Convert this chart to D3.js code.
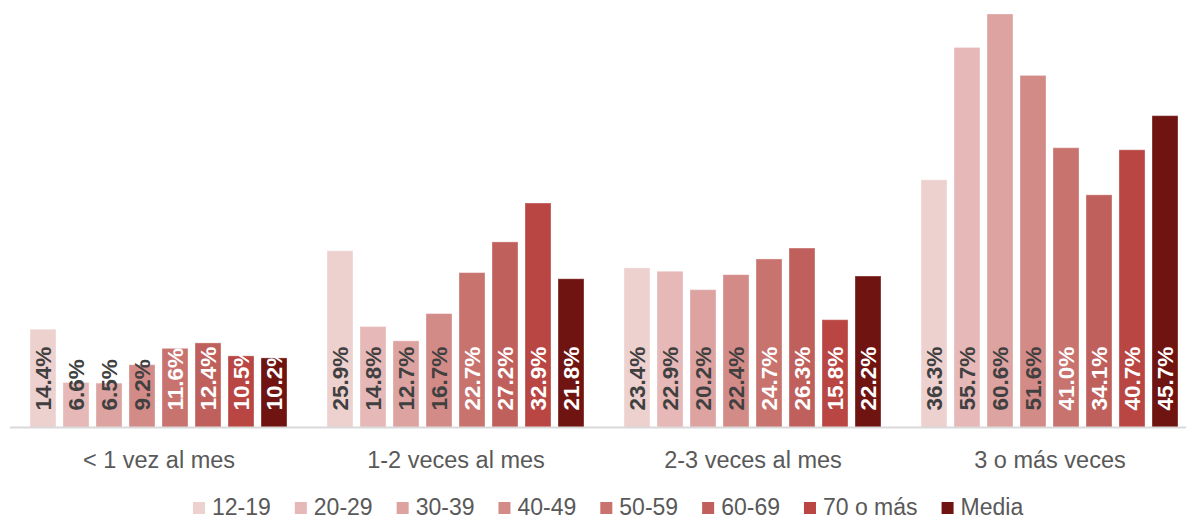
<!DOCTYPE html>
<html>
<head>
<meta charset="utf-8">
<script src="https://cdn.jsdelivr.net/npm/d3@7/dist/d3.min.js"></script>
<style>
  html, body { margin: 0; padding: 0; background: #fff; }
  svg { display: block; font-family: Arial, "Liberation Sans", sans-serif; }
</style>
</head>
<body>
<svg id="chart" width="1186" height="519"></svg>
<script>
// Frecuencia por grupo de edad (%)
const categories = ["< 1 vez al mes", "1-2 veces al mes", "2-3 veces al mes", "3 o más veces"];
const seriesNames = ["12-19", "20-29", "30-39", "40-49", "50-59", "60-69", "70 o más", "Media"];
const v12_19  = [14.4, 25.9, 23.4, 36.3];
const v20_29  = [6.6, 14.8, 22.9, 55.7];
const v30_39  = [6.5, 12.7, 20.2, 60.6];
const v40_49  = [9.2, 16.7, 22.4, 51.6];
const v50_59  = [11.6, 22.7, 24.7, 41.0];
const v60_69  = [12.4, 27.2, 26.3, 34.1];
const v70     = [10.5, 32.9, 15.8, 40.7];
const vMedia  = [10.2, 21.8, 22.2, 45.7];
const seriesValues = [v12_19, v20_29, v30_39, v40_49, v50_59, v60_69, v70, vMedia];

const colors = ["#EDD1CF", "#E6B8B7", "#DCA3A1", "#D38B88", "#C8736E", "#C0605C", "#B94643", "#6F1410"];
const labelColors = ["#404040", "#404040", "#404040", "#404040", "#ffffff", "#ffffff", "#ffffff", "#ffffff"];

const svg = d3.select("#chart");
const baseY = 427.5;

const x0 = d3.scaleBand().domain(categories).range([10.5, 1198.5]).paddingInner(0).paddingOuter(0);
const x1 = d3.scaleBand().domain(seriesNames).range([19.5, 276.5]).paddingInner(7 / 33).paddingOuter(0);
const y = d3.scaleLinear().domain([0, 60.6]).range([baseY, 14]);

const groups = svg.selectAll("g.cat")
  .data(categories)
  .join("g")
  .attr("class", "cat")
  .attr("transform", d => `translate(${x0(d)},0)`);

groups.each(function(cat, ci) {
  const g = d3.select(this);
  seriesNames.forEach((s, si) => {
    const v = seriesValues[si][ci];
    const bx = x1(s);
    const bw = x1.bandwidth();
    g.append("rect")
      .attr("x", bx)
      .attr("y", y(v))
      .attr("width", bw)
      .attr("height", baseY - y(v))
      .attr("fill", colors[si])
      .attr("stroke", "#ffffff")
      .attr("stroke-opacity", 0.35)
      .attr("stroke-width", 1);
    g.append("text")
      .attr("transform", `translate(${bx + bw / 2},${baseY - 17}) rotate(-90)`)
      .attr("dy", "0.36em")
      .attr("text-anchor", "start")
      .attr("font-size", 22.5)
      .attr("font-weight", "bold")
      .attr("fill", labelColors[si])
      .text(v.toFixed(1) + "%");
  });
});

// axis line and category labels
const xAxis = d3.axisBottom(x0).tickSize(0).tickPadding(0);
const axisG = svg.append("g").attr("transform", `translate(0,${baseY})`).call(xAxis);
axisG.select(".domain").attr("stroke", "#D9D9D9").attr("stroke-width", 2).attr("d", "M10,0H1186");
axisG.selectAll(".tick text")
  .attr("y", 40)
  .attr("dy", 0)
  .attr("font-size", 23.5)
  .attr("font-family", "Arial, 'Liberation Sans', sans-serif")
  .attr("fill", "#595959");

// legend
const legend = svg.append("g").attr("class", "legend");
let lx = 193;
seriesNames.forEach((s, i) => {
  const item = legend.append("g").attr("transform", `translate(${lx},0)`);
  item.append("rect").attr("x", 0).attr("y", 502).attr("width", 12).attr("height", 12).attr("fill", colors[i]);
  const t = item.append("text")
    .attr("x", 19).attr("y", 515)
    .attr("font-size", 23)
    .attr("fill", "#595959")
    .text(s);
  const w = t.node().getComputedTextLength();
  lx += 19 + w + 24;
});
</script>
</body>
</html>
